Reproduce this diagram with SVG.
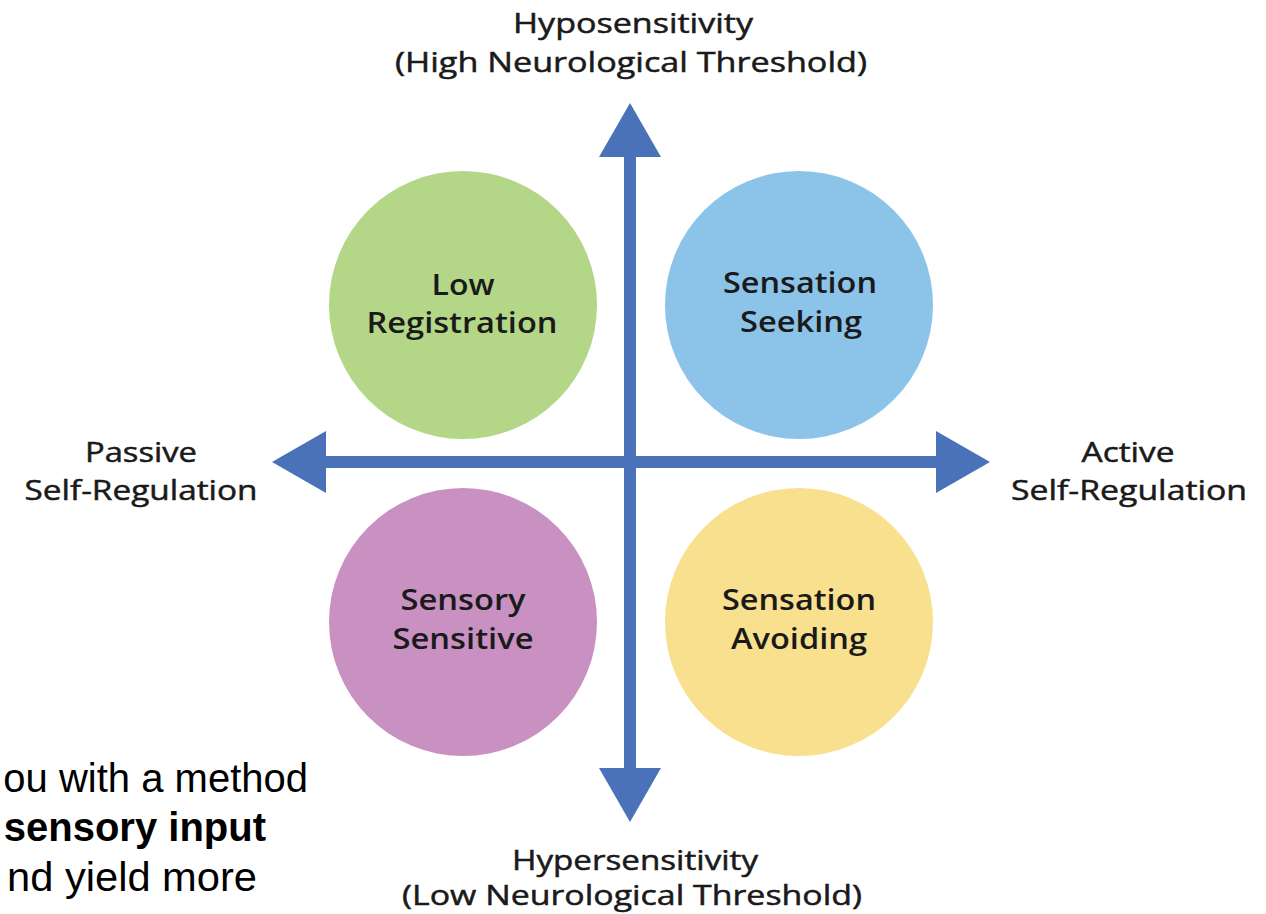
<svg xmlns="http://www.w3.org/2000/svg" width="1266" height="914" viewBox="0 0 1266 914">
  <style>
    .axis-label { font-family: "Open Sans", "Noto Sans", sans-serif; font-size: 28px; fill: #1a1a1a; stroke: #1a1a1a; stroke-width: 0.5; text-anchor: middle; }
    .node-label { font-family: "Open Sans", "Noto Sans", sans-serif; font-size: 28px; font-weight: 600; fill: #1a1a1a; text-anchor: middle; }
    .body { font-family: "Liberation Sans", Arial, sans-serif; font-size: 40px; fill: #000; text-anchor: end; }
    .axis { stroke: #4a72b8; stroke-width: 12; fill: none; }
    .head { fill: #4a72b8; }
  </style>
  <rect width="1266" height="914" fill="#ffffff"/>

  <!-- Quadrant circles -->
  <g id="low-registration">
    <circle cx="463" cy="305" r="134" fill="#b3d687"/>
    <text class="node-label" x="463" y="295" textLength="63" lengthAdjust="spacingAndGlyphs">Low</text>
    <text class="node-label" x="462" y="333" textLength="191" lengthAdjust="spacingAndGlyphs">Registration</text>
  </g>
  <g id="sensation-seeking">
    <circle cx="799" cy="305" r="134" fill="#8cc3e8"/>
    <text class="node-label" x="800" y="293" textLength="154" lengthAdjust="spacingAndGlyphs">Sensation</text>
    <text class="node-label" x="801" y="332" textLength="122" lengthAdjust="spacingAndGlyphs">Seeking</text>
  </g>
  <g id="sensory-sensitive">
    <circle cx="463" cy="622" r="134" fill="#c891c2"/>
    <text class="node-label" x="463" y="610" textLength="125" lengthAdjust="spacingAndGlyphs">Sensory</text>
    <text class="node-label" x="463" y="649" textLength="141" lengthAdjust="spacingAndGlyphs">Sensitive</text>
  </g>
  <g id="sensation-avoiding">
    <circle cx="799" cy="622" r="134" fill="#f8e08e"/>
    <text class="node-label" x="799" y="610" textLength="154" lengthAdjust="spacingAndGlyphs">Sensation</text>
    <text class="node-label" x="799" y="649" textLength="136" lengthAdjust="spacingAndGlyphs">Avoiding</text>
  </g>

  <!-- Axes with arrowheads at both ends -->
  <g id="connectors">
    <line class="axis" x1="630" y1="150" x2="630" y2="775"/>
    <line class="axis" x1="320" y1="462" x2="943" y2="462"/>
    <polygon class="head" points="630,103 661,157 599,157"/>
    <polygon class="head" points="630,822 661,768 599,768"/>
    <polygon class="head" points="272,462 326,431 326,493"/>
    <polygon class="head" points="990,462 936,431 936,493"/>
  </g>

  <!-- Axis labels -->
  <g id="label-top">
    <text class="axis-label" x="633" y="33" textLength="240" lengthAdjust="spacingAndGlyphs">Hyposensitivity</text>
    <text class="axis-label" x="631" y="72" textLength="472" lengthAdjust="spacingAndGlyphs">(High Neurological Threshold)</text>
  </g>
  <g id="label-bottom">
    <text class="axis-label" x="635" y="870" textLength="246" lengthAdjust="spacingAndGlyphs">Hypersensitivity</text>
    <text class="axis-label" x="632" y="905" textLength="460" lengthAdjust="spacingAndGlyphs">(Low Neurological Threshold)</text>
  </g>
  <g id="label-left">
    <text class="axis-label" x="141" y="462" textLength="112" lengthAdjust="spacingAndGlyphs">Passive</text>
    <text class="axis-label" x="141" y="500" textLength="233" lengthAdjust="spacingAndGlyphs">Self-Regulation</text>
  </g>
  <g id="label-right">
    <text class="axis-label" x="1128" y="462" textLength="93" lengthAdjust="spacingAndGlyphs">Active</text>
    <text class="axis-label" x="1129" y="500" textLength="236" lengthAdjust="spacingAndGlyphs">Self-Regulation</text>
  </g>

  <!-- Body text running in from the left edge -->
  <g id="body-text">
    <text class="body" x="308" y="792">ou with a method</text>
    <text class="body" x="266" y="841" font-weight="bold">sensory input</text>
    <text class="body" x="257" y="891" textLength="250" lengthAdjust="spacingAndGlyphs">nd yield more</text>
  </g>
</svg>
